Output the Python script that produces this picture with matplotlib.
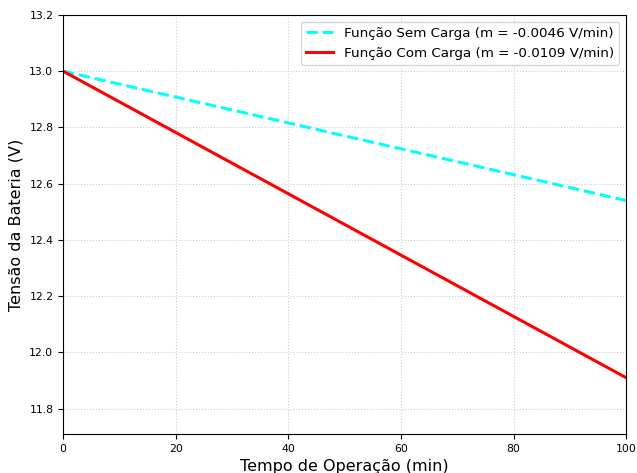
import matplotlib
matplotlib.use("Agg")
import matplotlib.pyplot as plt

tempo = [0, 100]
sem_carga = [13.0, 12.54]
com_carga = [13.0, 11.91]
label_sem = "Função Sem Carga (m = -0.0046 V/min)"
label_com = "Função Com Carga (m = -0.0109 V/min)"

fig = plt.figure(figsize=(6.37, 4.73), dpi=100)
ax = fig.add_axes([0.099, 0.0825, 0.884, 0.886])
ax.plot(tempo, sem_carga, color="cyan", linestyle="--", linewidth=2.2, label=label_sem)
ax.plot(tempo, com_carga, color="red", linestyle="-", linewidth=2.2, label=label_com)
ax.set_xlim(0, 100)
ax.set_ylim(11.71, 13.2)
ax.set_xlabel("Tempo de Operação (min)", fontsize=11.5)
ax.set_ylabel("Tensão da Bateria (V)", fontsize=11.5)
ax.tick_params(labelsize=7.8)
ax.grid(True, linestyle=":", color="#cccccc", linewidth=0.8)
ax.legend(loc="upper right", fontsize=9.7)
fig.savefig("out.png", dpi=100)
